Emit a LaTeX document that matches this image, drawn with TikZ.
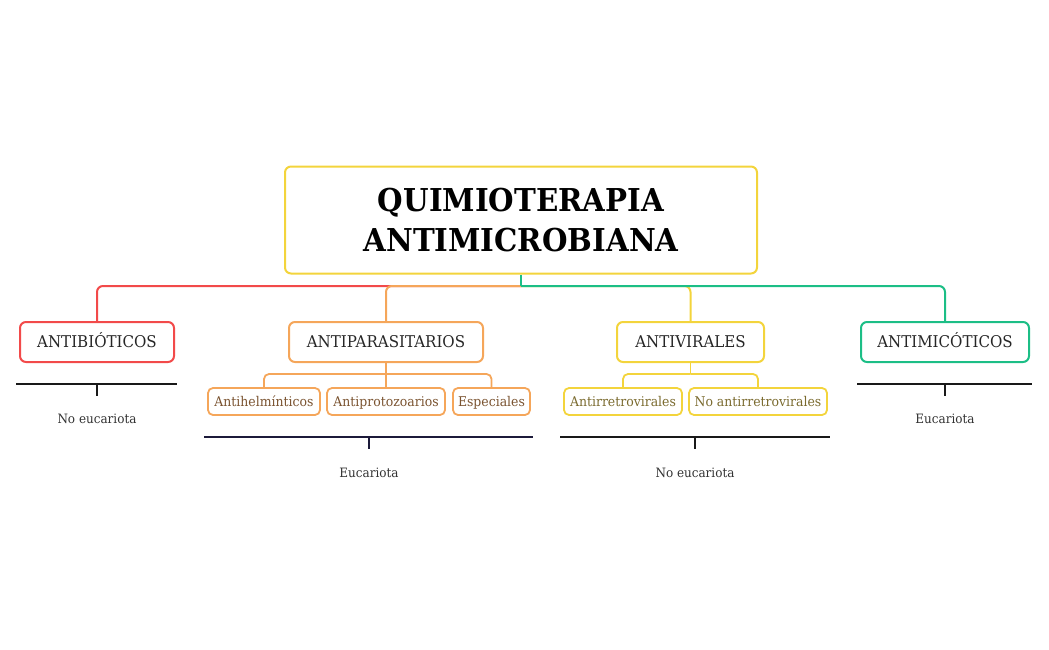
\documentclass[tikz,border=0pt]{standalone}
\usepackage{fontspec}
\setmainfont[FakeStretch=0.93]{DejaVu Serif}
\definecolor{cred}{HTML}{F24A4A}
\definecolor{corange}{HTML}{F5A65A}
\definecolor{cyellow}{HTML}{F3D43C}
\definecolor{cgreen}{HTML}{1CBE86}
\definecolor{cbrown}{HTML}{7A5330}
\definecolor{colive}{HTML}{7A6A2E}
\definecolor{cnavy}{HTML}{1C1A3A}
\begin{document}
\begin{tikzpicture}[x=1pt,y=-1pt,
  box/.style={draw,line width=2pt,rounded corners=6pt,inner sep=0pt,align=center},
  lvl1/.style={box,minimum height=40pt,font=\fontsize{16.2}{19}\selectfont,text=black!85,text height=13pt,text depth=2.5pt},
  lvl2/.style={box,line width=1.8pt,rounded corners=5pt,minimum height=27pt,font=\fontsize{13.4}{16}\selectfont,text height=11.5pt,text depth=2.5pt},
  conn/.style={line width=2pt,rounded corners=6pt},
  brace/.style={line width=1.8pt},
  lab/.style={font=\fontsize{12.9}{15}\selectfont,text=black!80,inner sep=0pt,text height=9.5pt,text depth=2.5pt}]
\useasboundingbox (0,0) rectangle (1049,650);
\node[box,draw=cyellow,minimum width=472pt,minimum height=107pt,font=\fontsize{31.5}{40}\selectfont\bfseries] (root) at (521,220) {QUIMIOTERAPIA\\ANTIMICROBIANA};
\node[lvl1,draw=cred,minimum width=154pt] (antibio) at (97,342) {ANTIBIÓTICOS};
\node[lvl1,draw=corange,minimum width=194pt] (parasit) at (386,342) {ANTIPARASITARIOS};
\node[lvl1,draw=cyellow,minimum width=147pt] (viral) at (690.5,342) {ANTIVIRALES};
\node[lvl1,draw=cgreen,minimum width=168pt] (mico) at (945,342) {ANTIMICÓTICOS};
\node[lvl2,draw=corange,text=cbrown,minimum width=112pt] (helm) at (264,401.5) {Antihelmínticos};
\node[lvl2,draw=corange,text=cbrown,minimum width=118pt] (proto) at (386,401.5) {Antiprotozoarios};
\node[lvl2,draw=corange,text=cbrown,minimum width=77pt] (espec) at (491.5,401.5) {Especiales};
\node[lvl2,draw=cyellow,text=colive,minimum width=118pt] (retro) at (623,401.5) {Antirretrovirales};
\node[lvl2,draw=cyellow,text=colive,minimum width=138pt] (noretro) at (758,401.5) {No antirretrovirales};
\coordinate (bus) at (521,286);
\draw[conn,cred] (bus) -| (antibio.north);
\draw[conn,corange] (bus) -| (parasit.north);
\draw[conn,cyellow] (bus) -| (viral.north);
\draw[conn,cgreen] (bus) -| (mico.north);
\draw[line width=2pt,cgreen] (root.south) -- (bus);
\coordinate (pbus) at (386,374);
\draw[conn,corange,line width=1.8pt] (parasit.south) -- (proto.north);
\draw[conn,corange,line width=1.8pt,rounded corners=5pt] (pbus) -| (helm.north);
\draw[conn,corange,line width=1.8pt,rounded corners=5pt] (pbus) -| (espec.north);
\coordinate (vbus) at (690.5,374);
\draw[conn,cyellow,line width=1.8pt] (viral.south) -- (vbus);
\draw[conn,cyellow,line width=1.8pt,rounded corners=5pt] (vbus) -| (retro.north);
\draw[conn,cyellow,line width=1.8pt,rounded corners=5pt] (vbus) -| (noretro.north);
% braces
\coordinate (a1) at (16,384); \coordinate (a2) at (177,384); \coordinate (am) at (97,384); \coordinate (at) at (97,396);
\draw[brace,black!90] (a1) -- (a2); \draw[brace,black!90] (am) -- (at);
\node[lab] (l1) at (97,419.5) {No eucariota};
\coordinate (b1) at (204,437); \coordinate (b2) at (533,437); \coordinate (bm) at (369,437); \coordinate (bt) at (369,449);
\draw[brace,cnavy] (b1) -- (b2); \draw[brace,cnavy] (bm) -- (bt);
\node[lab] (l2) at (369,473.5) {Eucariota};
\coordinate (c1) at (560,437); \coordinate (c2) at (830,437); \coordinate (cm) at (695,437); \coordinate (ct) at (695,449);
\draw[brace,black!90] (c1) -- (c2); \draw[brace,black!90] (cm) -- (ct);
\node[lab] (l3) at (695,473.5) {No eucariota};
\coordinate (d1) at (857,384); \coordinate (d2) at (1032,384); \coordinate (dm) at (945,384); \coordinate (dt) at (945,396);
\draw[brace,black!90] (d1) -- (d2); \draw[brace,black!90] (dm) -- (dt);
\node[lab] (l4) at (945,419.5) {Eucariota};
\end{tikzpicture}
\end{document}
